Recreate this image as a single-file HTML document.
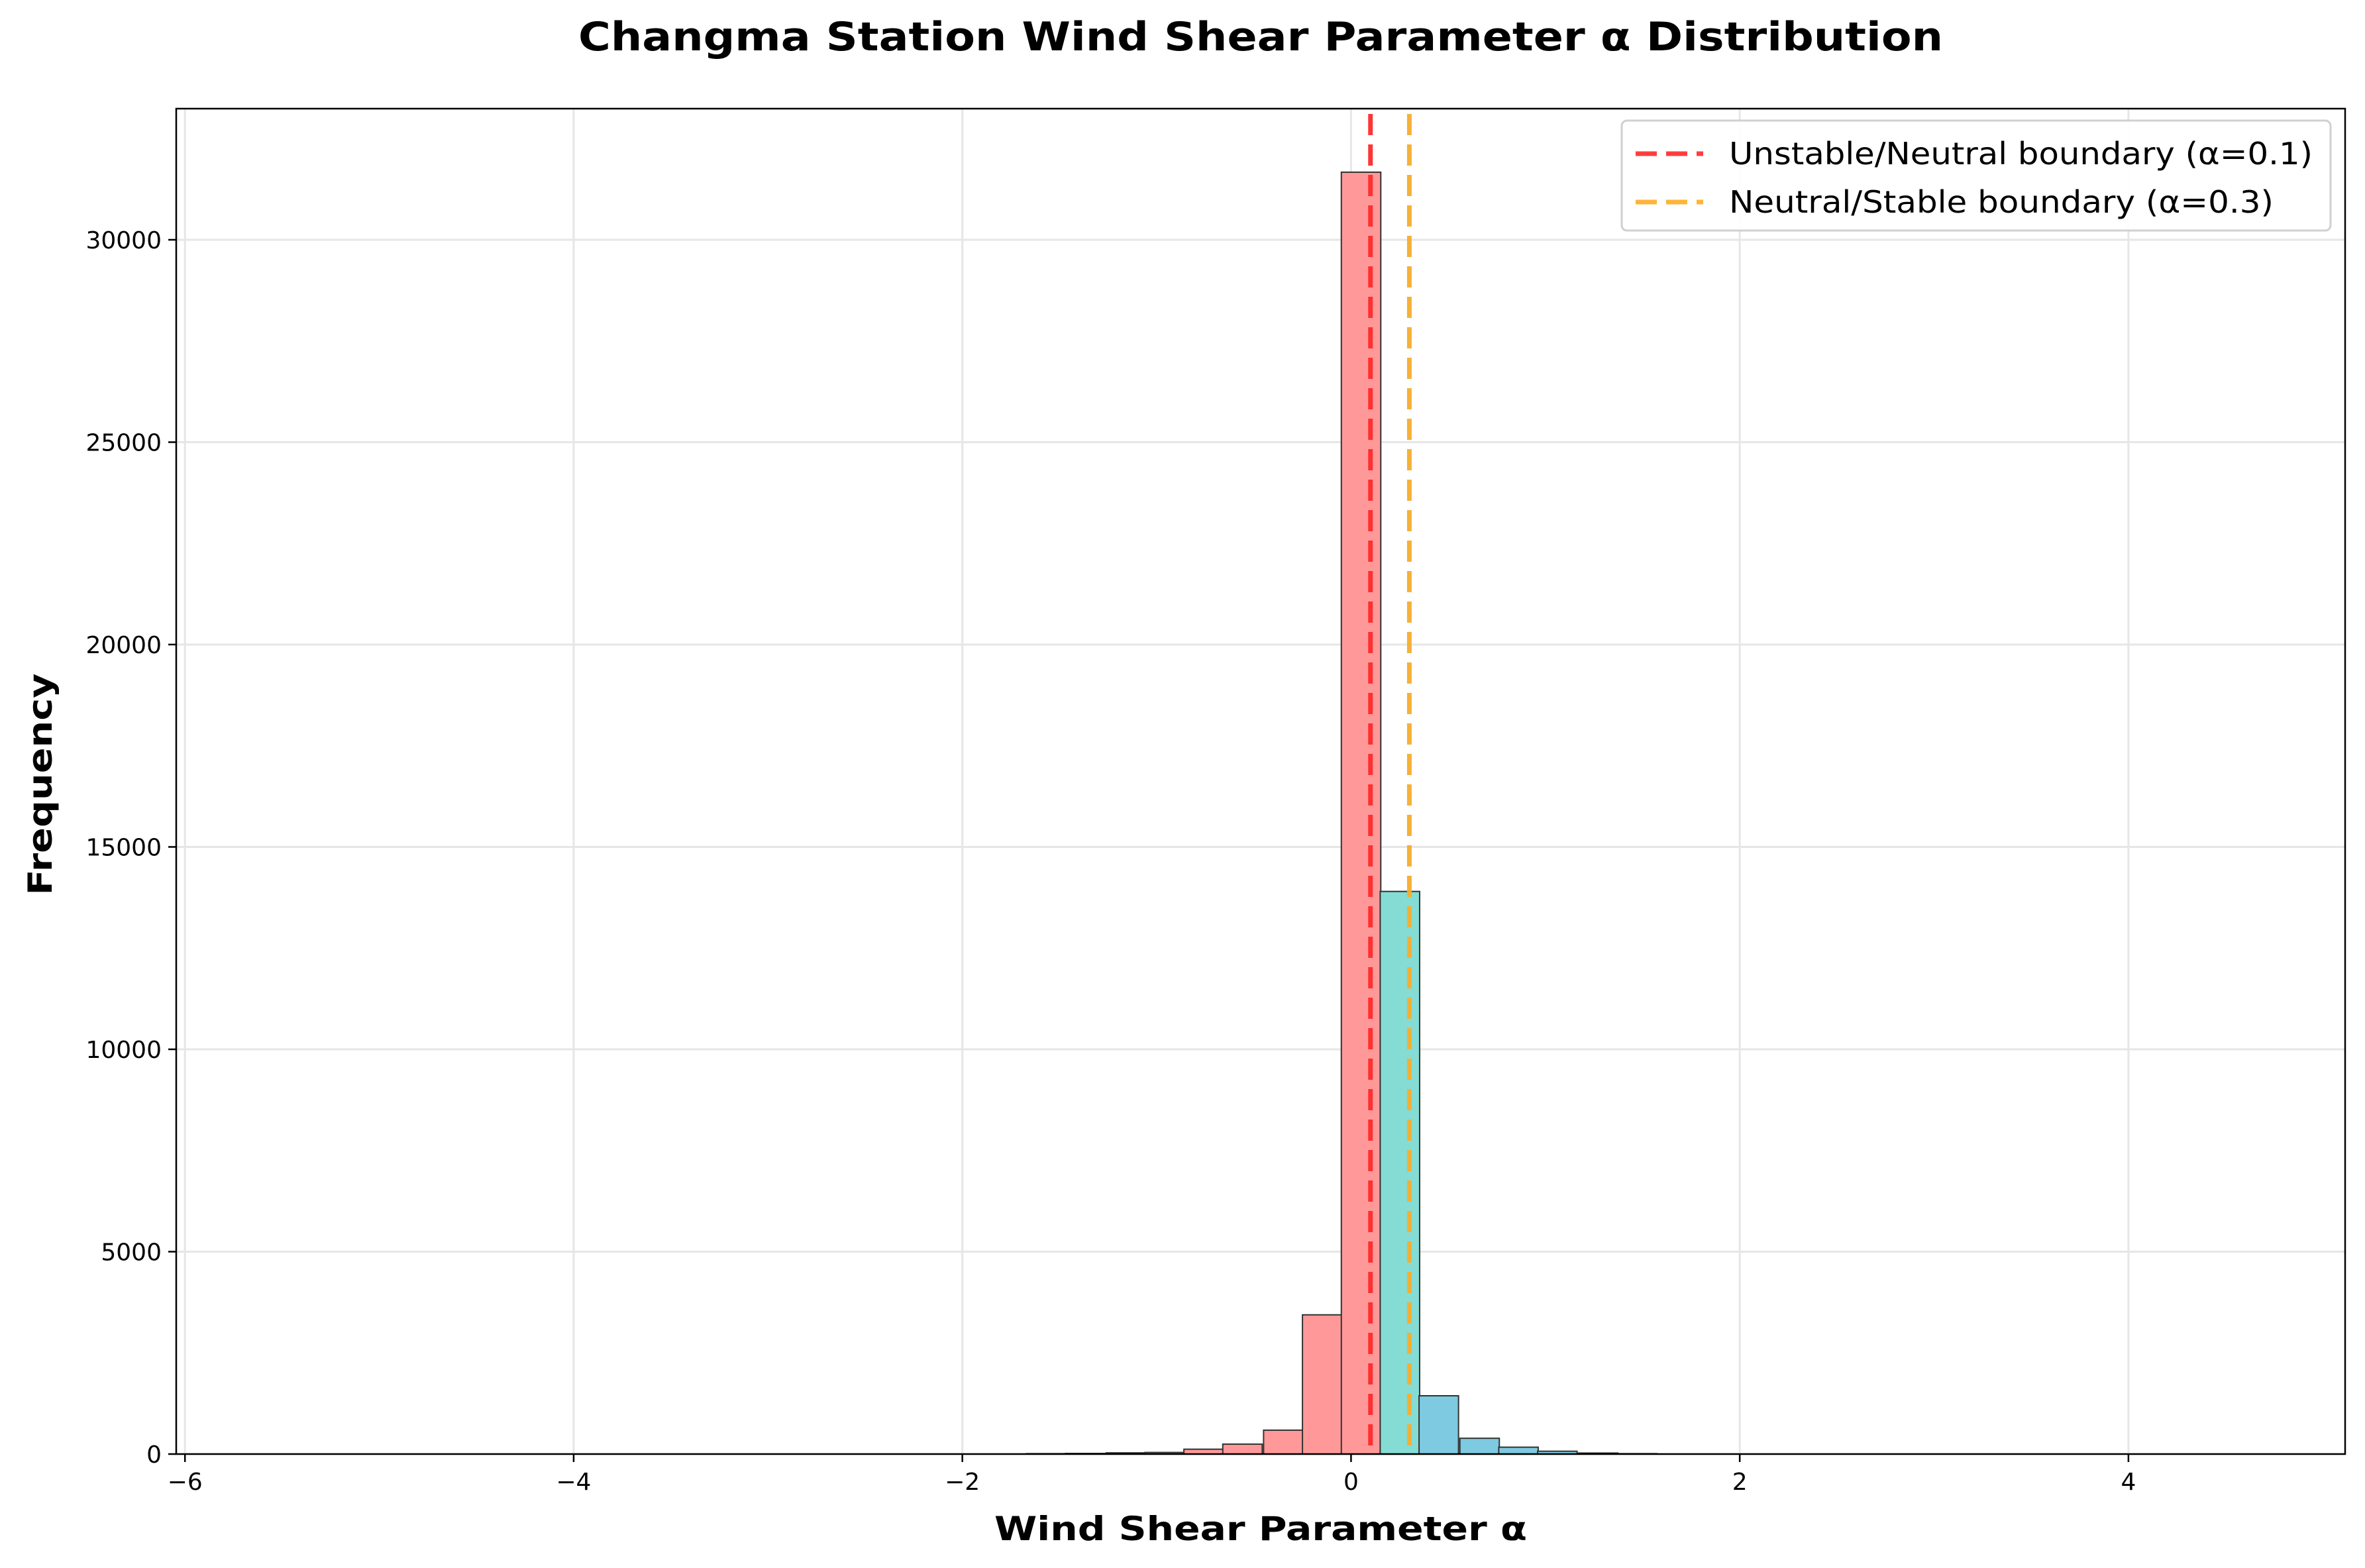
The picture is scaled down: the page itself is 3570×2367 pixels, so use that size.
<!DOCTYPE html>
<html><head><meta charset="utf-8"><style>
html,body{margin:0;padding:0;background:#fff;}
svg{display:block;font-family:"DejaVu Sans","Liberation Sans",sans-serif;}
</style></head><body>
<svg id="chart" width="3570" height="2367" viewBox="0 0 3570 2367" xmlns="http://www.w3.org/2000/svg">
<rect width="3570" height="2367" fill="#fff"/>
<text x="1903" y="76" text-anchor="middle" font-size="60" font-weight="bold" textLength="2060" lengthAdjust="spacingAndGlyphs">Changma Station Wind Shear Parameter α Distribution</text>
<g id="grid"></g>
<g id="bars"></g>
<g id="vlines"></g>
<rect x="266" y="164" width="3274" height="2031" fill="none" stroke="#000" stroke-width="2.5"/>
<g id="xticks"></g>
<g id="yticks"></g>
<text x="1903" y="2325" text-anchor="middle" font-size="50" font-weight="bold" textLength="804" lengthAdjust="spacingAndGlyphs">Wind Shear Parameter α</text>
<text transform="translate(78,1184) rotate(-90)" text-anchor="middle" font-size="50" font-weight="bold" textLength="335" lengthAdjust="spacingAndGlyphs">Frequency</text>
<g>
<rect x="2448" y="182" width="1070" height="166" rx="8" fill="#fff" fill-opacity="0.9" stroke="#d0d0d0" stroke-width="3"/>
<line x1="2469" y1="232" x2="2571" y2="232" stroke="#ff3333" stroke-opacity="0.95" stroke-width="7" stroke-dasharray="32 14"/>
<text x="2610" y="248" font-size="46" textLength="881" lengthAdjust="spacingAndGlyphs">Unstable/Neutral boundary (α=0.1)</text>
<line x1="2469" y1="305" x2="2571" y2="305" stroke="#ffb02e" stroke-opacity="0.95" stroke-width="7" stroke-dasharray="32 14"/>
<text x="2610" y="321" font-size="46" textLength="822" lengthAdjust="spacingAndGlyphs">Neutral/Stable boundary (α=0.3)</text>
</g>
</svg>
<script>
const binStarts = [-1.67,-1.47,-1.26,-1.06,-0.86,-0.66,-0.45,-0.25,-0.05,0.15,0.35,0.56,0.76,0.96,1.17,1.37];
const counts = [10,15,30,40,120,245,590,3440,31670,13900,1440,390,170,70,25,10];
const binWidth = 0.203;
const xTicks = [-6,-4,-2,0,2,4];
const yTicks = [0,5000,10000,15000,20000,25000,30000];
const boundaries = [0.1,0.3];

const X0=266,X1=3540,Y0=2195,Y1=164, xmin=-6.045,xmax=5.115,ymin=0,ymax=33240;
const sx=v=>X0+(v-xmin)/(xmax-xmin)*(X1-X0);
const sy=v=>Y0-(v-ymin)/(ymax-ymin)*(Y0-Y1);
const NS="http://www.w3.org/2000/svg";
function mk(tag,attrs,parent){const e=document.createElementNS(NS,tag);for(const k in attrs)e.setAttribute(k,attrs[k]);parent.appendChild(e);return e;}
const grid=document.getElementById('grid'),bars=document.getElementById('bars'),vl=document.getElementById('vlines'),xt=document.getElementById('xticks'),yt=document.getElementById('yticks');
xTicks.forEach(t=>{
  const g=mk('line',{x1:sx(t),x2:sx(t),y1:Y1,y2:Y0,stroke:'#e6e6e6','stroke-width':3},grid);
  
  
  const tk=mk('line',{x1:sx(t),x2:sx(t),y1:Y0,y2:Y0+12,stroke:'#000','stroke-width':2.5},xt);
  
  
  const lb=mk('text',{x:sx(t),y:Y0+54,'text-anchor':'middle','font-size':36},xt);
  lb.textContent=(t<0?'\u2212'+(-t):String(t));
  
  
});
yTicks.forEach(t=>{
  const g=mk('line',{x1:X0,x2:X1,y1:sy(t),y2:sy(t),stroke:'#e6e6e6','stroke-width':3},grid);
  
  
  const tk=mk('line',{x1:X0-12,x2:X0,y1:sy(t),y2:sy(t),stroke:'#000','stroke-width':2.5},yt);
  
  
  const lb=mk('text',{x:X0-22,y:sy(t)+13,'text-anchor':'end','font-size':36},yt);
  lb.textContent=String(t);
  
  
});
binStarts.forEach((b,i)=>{
  const mid=b+binWidth/2;
  const col=mid<0.1?'#ff9999':(mid<0.3?'#85dcd5':'#7ecae0');
  const r=mk('rect',{x:sx(b),y:sy(counts[i]),width:sx(b+binWidth)-sx(b),height:Y0-sy(counts[i]),fill:col,stroke:'#333','stroke-width':2},bars);
  
  
});
const vcols=['#ff2a2a','#f5ad2e'];
boundaries.forEach((v,i)=>{
  const l=mk('line',{x1:sx(v),x2:sx(v),y1:Y1+8,y2:Y0,stroke:vcols[i],'stroke-opacity':0.95,'stroke-width':7,'stroke-dasharray':'32 14'},vl);
  
  
});
</script>
</body></html>
